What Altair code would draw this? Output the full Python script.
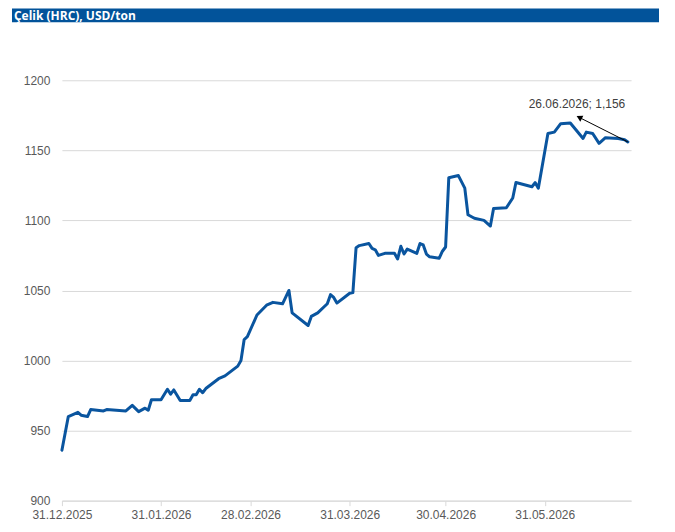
import altair as alt
import pandas as pd

title_text = "Çelik (HRC), USD/ton"

dates = [
    "2025-12-31", "2026-01-02", "2026-01-05", "2026-01-06", "2026-01-08", "2026-01-09",
    "2026-01-13", "2026-01-14", "2026-01-20", "2026-01-22", "2026-01-24", "2026-01-26",
    "2026-01-27", "2026-01-28", "2026-01-31", "2026-02-02", "2026-02-03", "2026-02-04",
    "2026-02-06", "2026-02-09", "2026-02-10", "2026-02-11", "2026-02-12", "2026-02-13",
    "2026-02-14", "2026-02-18", "2026-02-20", "2026-02-24", "2026-02-25", "2026-02-26",
    "2026-02-27", "2026-03-02", "2026-03-05", "2026-03-07", "2026-03-10", "2026-03-12",
    "2026-03-13", "2026-03-18", "2026-03-19", "2026-03-21", "2026-03-24", "2026-03-25",
    "2026-03-26", "2026-03-27", "2026-03-31", "2026-04-01", "2026-04-02", "2026-04-03",
    "2026-04-06", "2026-04-07", "2026-04-08", "2026-04-09", "2026-04-11", "2026-04-14",
    "2026-04-15", "2026-04-16", "2026-04-17", "2026-04-18", "2026-04-21", "2026-04-22",
    "2026-04-23", "2026-04-24", "2026-04-25", "2026-04-28", "2026-04-29", "2026-04-30",
    "2026-05-01", "2026-05-04", "2026-05-06", "2026-05-07", "2026-05-09", "2026-05-12",
    "2026-05-14", "2026-05-15", "2026-05-19", "2026-05-21", "2026-05-22", "2026-05-27",
    "2026-05-28", "2026-05-29", "2026-06-01", "2026-06-03", "2026-06-05", "2026-06-08",
    "2026-06-12", "2026-06-13", "2026-06-15", "2026-06-17", "2026-06-19", "2026-06-23",
    "2026-06-25", "2026-06-26",
]
prices = [
    936, 960, 963, 961, 960, 965,
    964, 965, 964, 968, 963.5, 966,
    964.5, 972, 972, 979.5, 976, 979,
    971.5, 971.5, 975.5, 975.5, 979.5, 977,
    980, 987, 989, 996, 1000, 1015,
    1017, 1032.5, 1039.5, 1041.5, 1040.5, 1050,
    1034, 1025, 1031.5, 1034, 1040.5, 1047,
    1045, 1041, 1048, 1048.5, 1080.5, 1082,
    1083.5, 1080, 1079, 1075, 1076.5, 1076.5,
    1072.5, 1081.5, 1076, 1079.5, 1076.5, 1083.5,
    1082.5, 1076, 1074, 1073, 1078, 1081,
    1130.5, 1132, 1123, 1104, 1101.5, 1100,
    1096, 1108.5, 1109, 1116, 1127, 1124,
    1127, 1123, 1162, 1163, 1169, 1169.5,
    1158.5, 1163, 1162, 1155, 1159, 1158.5,
    1157.5, 1156,
]

y_ticks = [900, 950, 1000, 1050, 1100, 1150, 1200]
x_tick_dates = [(2025, 12, 31), (2026, 1, 31), (2026, 2, 28), (2026, 3, 31), (2026, 4, 30), (2026, 5, 31)]
x_domain = [(2025, 12, 31), (2026, 6, 27)]

annot_label = "26.06.2026; 1,156"
arrow_tip_date = "2026-06-10T19:00:00"
arrow_tip_value = 1173.5

BLUE = "#0A559F"
GREY_TXT = "#595959"
GRID = "#D9D9D9"

df = pd.DataFrame({"date": pd.to_datetime(dates), "price": prices})

def dt(t):
    return alt.DateTime(year=t[0], month=t[1], date=t[2])

x_scale = alt.Scale(domain=[dt(d) for d in x_domain])
y_scale = alt.Scale(domain=[900, 1200], nice=False, zero=False)

x_axis = alt.Axis(
    values=[dt(d) for d in x_tick_dates], format="%d.%m.%Y", formatType="time",
    title=None, grid=False, domainColor=GRID, tickColor=GRID, tickSize=5,
    labelPadding=4, labelColor=GREY_TXT, labelFont="Liberation Sans", labelFontSize=12,
    labelAngle=0, labelFlush=False, labelOverlap=False,
)
y_axis = alt.Axis(
    values=y_ticks, format="d", title=None, grid=True, gridColor=GRID, domain=False, ticks=False,
    labelPadding=12, labelColor=GREY_TXT, labelFont="Liberation Sans", labelFontSize=12,
)

line = alt.Chart(df).mark_line(
    color=BLUE, strokeWidth=3, strokeJoin="round", strokeCap="round"
).encode(
    x=alt.X("date:T", scale=x_scale, axis=x_axis),
    y=alt.Y("price:Q", scale=y_scale, axis=y_axis),
)

last = pd.DataFrame({
    "date": [pd.to_datetime(dates[-1])], "price": [prices[-1]],
    "date2": [pd.to_datetime(arrow_tip_date)], "price2": [arrow_tip_value],
    "label": [annot_label],
})

arrow_line = alt.Chart(last).mark_rule(color="#000000", strokeWidth=1).encode(
    x=alt.X("date:T", scale=x_scale), y=alt.Y("price:Q", scale=y_scale),
    x2="date2:T", y2="price2:Q",
)
arrow_head = alt.Chart(last).mark_point(
    shape="triangle-up", angle=297, filled=True, size=45, color="#000000", opacity=1
).encode(
    x=alt.X("date2:T", scale=x_scale), y=alt.Y("price2:Q", scale=y_scale),
)
annot = alt.Chart(last).mark_text(
    dx=-51, dy=-38, align="center", baseline="middle",
    font="Liberation Sans", fontSize=12, color="#404040",
).encode(
    x=alt.X("date:T", scale=x_scale), y=alt.Y("price:Q", scale=y_scale), text="label:N",
)

hdr = pd.DataFrame({"t": [title_text]})
bar = alt.Chart(hdr).mark_rect(color="#02539A").encode(
    x=alt.value(-50), x2=alt.value(598), y=alt.value(-72), y2=alt.value(-58),
)
bar_text = alt.Chart(hdr).mark_text(
    align="left", baseline="middle", font="Open Sans", fontWeight="bold", fontSize=12, color="white",
).encode(x=alt.value(-48), y=alt.value(-64.5), text="t:N")

chart = alt.layer(line, arrow_line, arrow_head, annot, bar, bar_text).properties(
    width=570, height=421,
    autosize=alt.AutoSizeParams(type="none"),
    padding={"left": 54, "top": 72, "right": 36, "bottom": 22},
).configure_view(stroke=None)

chart.save("out.html", embed_options={"renderer": "svg", "actions": False})
